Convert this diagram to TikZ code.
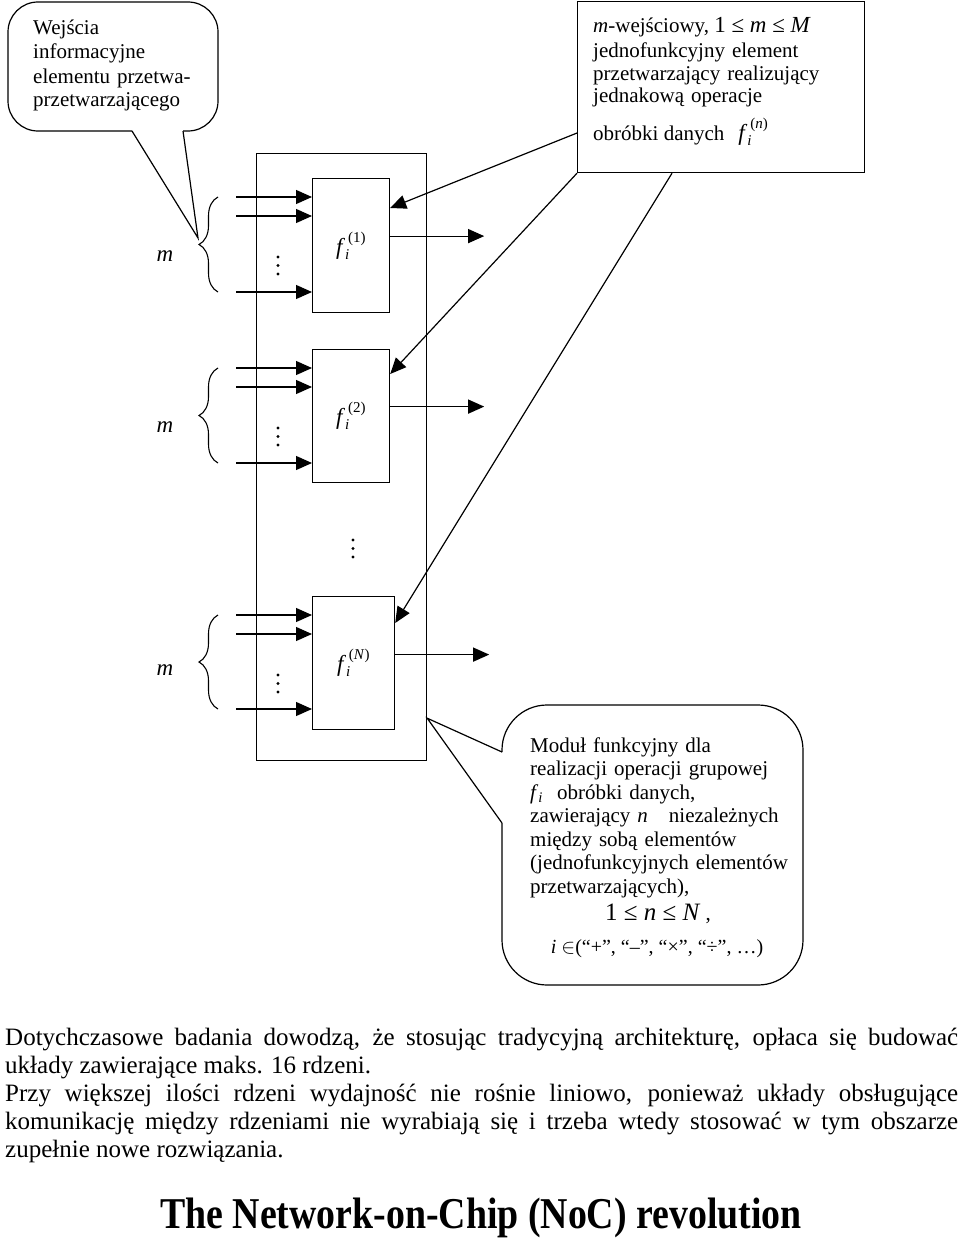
\documentclass[tikz,border=0pt]{standalone}
\usepackage{amsmath}
\usepackage{fontspec}
\setmainfont{Liberation Serif}
\newfontfamily\titlefont[FakeStretch=0.86]{Liberation Serif}
\usetikzlibrary{arrows.meta,decorations.pathreplacing}

\tikzset{
  ln/.style={line width=1.2pt},
  blk/.style={draw, ln, inner sep=0pt, anchor=north west, font=\fontsize{23}{24}\selectfont},
  arr/.style={ln, -{Triangle[length=16pt,width=14pt]}},
  brc/.style={line width=1.1pt, decorate, decoration={brace, amplitude=19pt}},
  txt/.style={inner sep=0pt, font=\fontsize{21}{24}\selectfont},
  mtxt/.style={inner sep=0pt, font=\fontsize{23}{24}\selectfont\itshape},
}
\newcommand{\smf}{\fontsize{15}{15}\selectfont}
\newcommand{\ffi}[1]{\textit{f}$_{\text{\smf\itshape i}}^{\,\text{\smf #1}}$}
\newcommand{\fsub}{\textit{f}$_{\text{\itshape i}}$}

\begin{document}
\begin{tikzpicture}[x=1pt,y=-1pt]
  \useasboundingbox (0,0) rectangle (960,1239);

  % callout with the inputs
  \draw[ln, rounded corners=30pt] (132,131) -- (8,131) -- (8,2) -- (218,2) -- (218,131) -- (183,131);
  \coordinate (tipin) at (198,238);
  \draw[ln] (132,131) -- (tipin) -- (183,131);
  \node[txt, text width=200pt, align=left, anchor=base west] (cin) at (33,35)
    {Wejścia\\ informacyjne\\ elementu przetwa-\\ przetwarzającego};

  % box of the processing element
  \node[draw, ln, inner sep=0pt, anchor=north west, minimum width=287pt, minimum height=171pt] (pe) at (577,1) {};
  \node[txt, anchor=base west] (pe1) at (593,33)
    {\textit{m}-wejściowy, {\fontsize{23}{24}\selectfont 1 ≤ \textit{m} ≤ \textit{M}}};
  \node[txt, text width=265pt, align=left, anchor=base west, font=\fontsize{21}{22.5}\selectfont] (pe2) at (593,58)
    {jednofunkcyjny element\\ przetwarzający realizujący\\ jednakową operacje};
  \node[txt, anchor=base west] (pe3) at (593,140) {obróbki danych\hspace{14pt}{\fontsize{23}{24}\selectfont\ffi{(\textit{n})}}};

  % module and its blocks
  \node[blk, minimum width=170pt, minimum height=607pt] (mod) at (256,153) {};
  \node[blk, minimum width=77pt, minimum height=134pt] (f1) at (312,178) {\ffi{(1)}};
  \node[blk, minimum width=77pt, minimum height=133pt] (f2) at (312,349) {\ffi{(2)}};
  \node[blk, minimum width=82pt, minimum height=133pt] (fN) at (312,596) {\ffi{(\textit{N})}};

  % block 1
  \draw[arr] ([xshift=-76pt,yshift=-19pt]f1.north west) -- ([yshift=-19pt]f1.north west);
  \draw[arr] ([xshift=-76pt,yshift=-38pt]f1.north west) -- ([yshift=-38pt]f1.north west);
  \draw[arr] ([xshift=-76pt,yshift=-114pt]f1.north west) -- ([yshift=-114pt]f1.north west);
  \foreach \d in {79,87.5,96} \fill ([xshift=-34pt,yshift=-\d pt]f1.north west) circle (1.7pt);
  \draw[brc] ([xshift=-94pt,yshift=-114pt]f1.north west) -- ([xshift=-94pt,yshift=-19pt]f1.north west);
  \node[mtxt] (m1) at ([xshift=-147pt,yshift=-78pt]f1.north west) {m};
  \draw[arr] ([yshift=9.5pt]f1.east) -- ++(94,0);

  % block 2
  \draw[arr] ([xshift=-76pt,yshift=-19pt]f2.north west) -- ([yshift=-19pt]f2.north west);
  \draw[arr] ([xshift=-76pt,yshift=-38pt]f2.north west) -- ([yshift=-38pt]f2.north west);
  \draw[arr] ([xshift=-76pt,yshift=-114pt]f2.north west) -- ([yshift=-114pt]f2.north west);
  \foreach \d in {79,87.5,96} \fill ([xshift=-34pt,yshift=-\d pt]f2.north west) circle (1.7pt);
  \draw[brc] ([xshift=-94pt,yshift=-114pt]f2.north west) -- ([xshift=-94pt,yshift=-19pt]f2.north west);
  \node[mtxt] (m2) at ([xshift=-147pt,yshift=-78pt]f2.north west) {m};
  \draw[arr] ([yshift=9.5pt]f2.east) -- ++(94,0);

  % dots between the blocks
  \foreach \d in {540,548.5,557} \fill (353,\d) circle (1.7pt);

  % block N
  \draw[arr] ([xshift=-76pt,yshift=-19pt]fN.north west) -- ([yshift=-19pt]fN.north west);
  \draw[arr] ([xshift=-76pt,yshift=-38pt]fN.north west) -- ([yshift=-38pt]fN.north west);
  \draw[arr] ([xshift=-76pt,yshift=-113pt]fN.north west) -- ([yshift=-113pt]fN.north west);
  \foreach \d in {79,87.5,96} \fill ([xshift=-34pt,yshift=-\d pt]fN.north west) circle (1.7pt);
  \draw[brc] ([xshift=-94pt,yshift=-113pt]fN.north west) -- ([xshift=-94pt,yshift=-19pt]fN.north west);
  \node[mtxt] (mN) at ([xshift=-147pt,yshift=-74pt]fN.north west) {m};
  \draw[arr] ([yshift=8.5pt]fN.east) -- ++(94,0);

  % pointers of the element box
  \coordinate (pa) at (577,133);
  \draw[arr] (pa) -- ([yshift=-30pt]f1.north east);
  \draw[arr] (pe.south west) -- ([yshift=-25pt]f2.north east);
  \draw[arr] ([xshift=95pt]pe.south west) -- ([yshift=-27pt]fN.north east);

  % callout of the module
  \draw[ln, rounded corners=45pt] (502,823) -- (502,985) -- (803,985) -- (803,705) -- (502,705) -- (502,752);
  \draw[ln] (502,752) -- ([yshift=43pt]mod.south east) -- (502,823);
  \node[txt, text width=275pt, align=left, anchor=base west, font=\fontsize{21}{23.5}\selectfont] (mf) at (530,752)
    {Moduł funkcyjny dla\\ realizacji operacji grupowej\\ \fsub\ \ obróbki danych,\\ zawierający \textit{n}\quad niezależnych\\
     między sobą elementów\\ (jednofunkcyjnych elementów\\ przetwarzających),};
  \node[txt, anchor=base] (mn) at (658,920) {{\fontsize{25}{24}\selectfont 1 ≤ \textit{n} ≤ \textit{N}} ,};
  \node[txt, anchor=base, font=\fontsize{20}{24}\selectfont] (mi) at (657,953) {\textit{i} $\in$(“+”, “–”, “×”, “÷”, …)};

  % text below
  \node[inner sep=0pt, anchor=base west, text width=953pt, align=justify, font=\fontsize{25}{28}\selectfont,
        execute at begin node={\hyphenpenalty=10000 \exhyphenpenalty=10000 }] (par) at (5,1045)
    {Dotychczasowe badania dowodzą, że stosując tradycyjną architekturę, opłaca się budować\linebreak
     układy zawierające maks. 16 rdzeni.\\
     Przy większej ilości rdzeni wydajność nie rośnie liniowo, ponieważ układy obsługujące\linebreak
     komunikację między rdzeniami nie wyrabiają się i trzeba wtedy stosować w tym obszarze\linebreak
     zupełnie nowe rozwiązania.};
  \node[inner sep=0pt, anchor=base, font=\titlefont\fontsize{44}{46}\selectfont\bfseries] (tt) at (481,1228)
    {The Network-on-Chip (NoC) revolution};
\end{tikzpicture}
\end{document}
